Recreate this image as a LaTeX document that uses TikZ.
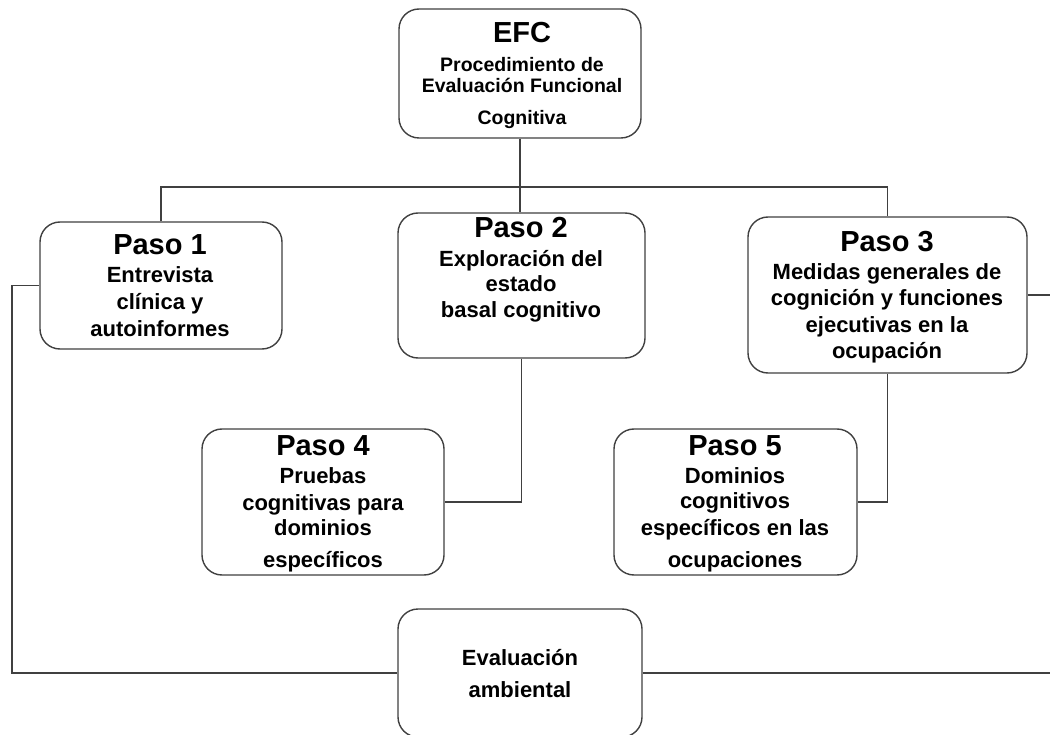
\documentclass[tikz,border=0pt]{standalone}
\usepackage{fontspec}
\setmainfont{Liberation Sans}
\begin{document}
\begin{tikzpicture}[x=1pt,y=-1pt,
  box/.style={draw=black!75, line width=1.4pt, rounded corners=20pt, fill=white, inner sep=0pt},
  link/.style={draw=black!75, line width=1.3pt},
  ttl/.style={anchor=base, inner sep=0pt, font=\fontsize{29}{29}\selectfont\bfseries},
  txt/.style={anchor=base, inner sep=0pt, font=\fontsize{22}{22}\selectfont\bfseries},
  sub/.style={anchor=base, inner sep=0pt, font=\fontsize{19.5}{19.5}\selectfont\bfseries}]
\useasboundingbox (0,0) rectangle (1050,735);

% boxes
\node[box, minimum width=242, minimum height=129] (efc) at (520,73.5) {};
\node[box, minimum width=242, minimum height=127] (p1)  at (161,285.5) {};
\node[box, minimum width=247, minimum height=145] (p2)  at (521.5,285.5) {};
\node[box, minimum width=279, minimum height=156] (p3)  at (887.5,295) {};
\node[box, minimum width=242, minimum height=146] (p4)  at (323,502) {};
\node[box, minimum width=243, minimum height=146] (p5)  at (735.5,502) {};
\node[box, minimum width=244, minimum height=128] (env) at (520,673) {};

% junction points and free ends
\coordinate (bus) at (519,187);
\coordinate (lc)  at (12,673);
\coordinate (re)  at (1050,673);

% connectors
\draw[link] (efc.south) -- (efc.south |- p2.north);
\draw[link] (p1.north) |- (bus) -| (p3.north);
\draw[link] (p2.south) |- (p4.east);
\draw[link] (p3.south) |- (p5.east);
\draw[link] (p1.west) -| (lc) -- (env.west);
\draw[link] (env.east) -- (re);
\draw[link] (p3.east) -- (p3.east -| re);

% EFC
\node[ttl] (efc1) at (522,43) {EFC};
\node[sub] (efc2) at (522,72) {Procedimiento de};
\node[sub] (efc3) at (522,93) {Evaluación Funcional};
\node[sub] (efc4) at (522,125) {Cognitiva};

% Paso 1
\node[ttl] (p1a) at (160,255) {Paso 1};
\node[txt] (p1b) at (160,283) {Entrevista};
\node[txt] (p1c) at (160,310) {clínica y};
\node[txt] (p1d) at (160,337) {autoinformes};

% Paso 2
\node[ttl] (p2a) at (521,238) {Paso 2};
\node[txt] (p2b) at (521,267) {Exploración del};
\node[txt] (p2c) at (521,292) {estado};
\node[txt] (p2d) at (521,318) {basal cognitivo};

% Paso 3
\node[ttl] (p3a) at (887,252) {Paso 3};
\node[txt] (p3b) at (887,280) {Medidas generales de};
\node[txt] (p3c) at (887,306) {cognición y funciones};
\node[txt] (p3d) at (887,333) {ejecutivas en la};
\node[txt] (p3e) at (887,359) {ocupación};

% Paso 4
\node[ttl] (p4a) at (323,455) {Paso 4};
\node[txt] (p4b) at (323,483) {Pruebas};
\node[txt] (p4c) at (323,510) {cognitivas para};
\node[txt] (p4d) at (323,535) {dominios};
\node[txt] (p4e) at (323,567) {específicos};

% Paso 5
\node[ttl] (p5a) at (735,455) {Paso 5};
\node[txt] (p5b) at (735,483) {Dominios};
\node[txt] (p5c) at (735,508) {cognitivos};
\node[txt] (p5d) at (735,535) {específicos en las};
\node[txt] (p5e) at (735,567) {ocupaciones};

% environment
\node[txt] (enva) at (520,665) {Evaluación};
\node[txt] (envb) at (520,697) {ambiental};
\end{tikzpicture}
\end{document}
